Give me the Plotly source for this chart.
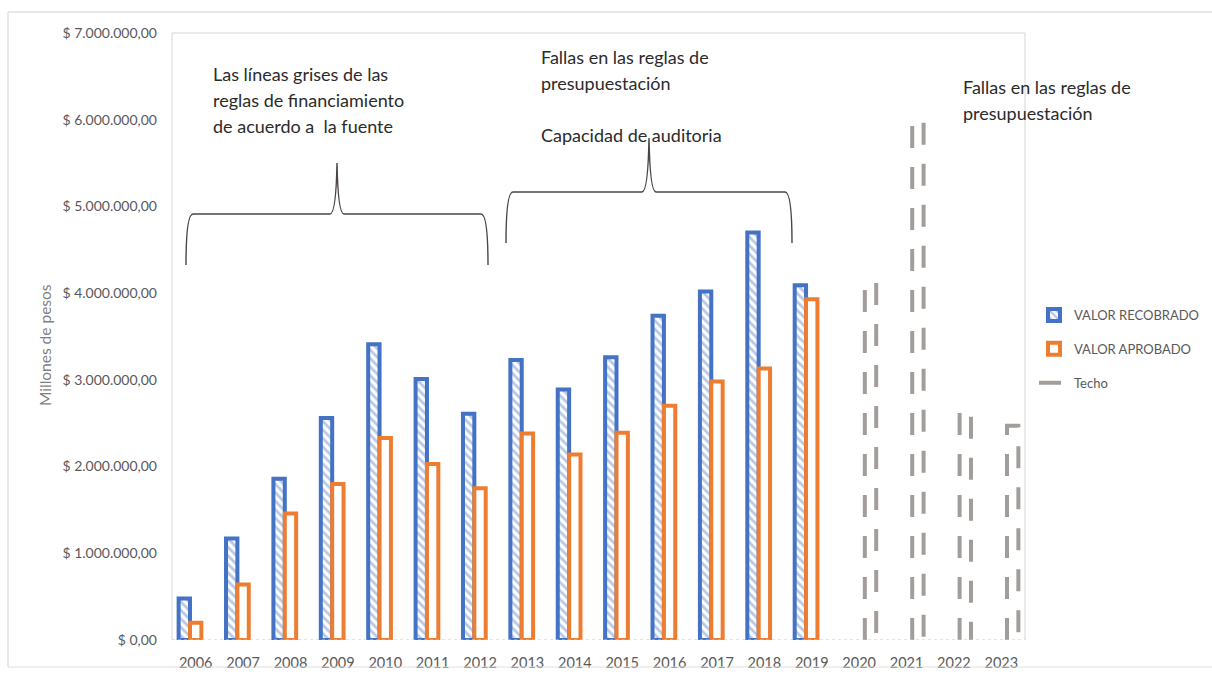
import plotly.graph_objects as go

# ---------------- data ----------------
years = list(range(2006, 2024))
years_hist = years[:14]
years_techo = years[14:]
valor_recobrado = [480000, 1170000, 1860000, 2560000, 3410000, 3010000, 2610000,
                   3230000, 2890000, 3260000, 3740000, 4020000, 4700000, 4090000]
valor_aprobado = [200000, 640000, 1460000, 1800000, 2330000, 2030000, 1750000,
                  2380000, 2140000, 2390000, 2700000, 2980000, 3130000, 3930000]
techo = [4120000, 5990000, 2640000, 2470000]
y_tick_values = [0, 1000000, 2000000, 3000000, 4000000, 5000000, 6000000, 7000000]
x_tick_labels = [str(y) for y in years]


def fmt_peso(v):
    return "$ " + f"{int(v):,}".replace(",", ".") + ",00"


y_tick_labels = [fmt_peso(v) for v in y_tick_values]

# ---------------- geometry helpers (layout only) ----------------
W, H = 1212, 679
L, R, T, B = 172, 187, 33, 39
PW, PH = W - L - R, H - T - B


def px(x):
    return (x - L) / PW


def py(y):
    return (H - B - y) / PH


slot = 0.24  # width of each bar slot in category units
BLUE = "#4472c4"
ORANGE = "#ed7d31"
GRAY = "#a39d9a"
FONT = "Lato"

fig = go.Figure()

fig.add_trace(go.Bar(
    x=years_hist, y=valor_recobrado, name="VALOR RECOBRADO",
    width=slot, offset=-1.5 * slot,
    marker=dict(color="white",
                line=dict(color=BLUE, width=4),
                pattern=dict(shape="\\", fgcolor="#6b8fd3", bgcolor="white",
                             size=6, solidity=0.45, fillmode="overlay")),
    legendgroup="a",
))
fig.add_trace(go.Bar(
    x=years_hist, y=valor_aprobado, name="VALOR APROBADO",
    width=slot, offset=-0.5 * slot,
    marker=dict(color="white", line=dict(color=ORANGE, width=4)),
    legendgroup="b",
))

# Techo: dashed outlined bars built from the data
tx, ty = [], []
for yr, v in zip(years_techo, techo):
    xl, xr = yr + 0.5 * slot, yr + 1.5 * slot
    tx += [xl, xl, xr, xr, None]
    ty += [0, v, v, 0, None]
fig.add_trace(go.Scatter(
    x=tx, y=ty, mode="lines", name="Techo",
    line=dict(color=GRAY, width=4, dash="22px,19px"),
    legendgroup="c", connectgaps=False,
))

shapes = []
frame_col = "#dcd4d0"
shapes.append(dict(type="line", xref="paper", yref="paper", x0=0, x1=0, y0=0, y1=1,
                   line=dict(color=frame_col, width=1)))
shapes.append(dict(type="line", xref="paper", yref="paper", x0=0, x1=1, y0=1, y1=1,
                   line=dict(color=frame_col, width=1)))
shapes.append(dict(type="line", xref="paper", yref="paper", x0=1, x1=1, y0=0, y1=1,
                   line=dict(color=frame_col, width=1)))
shapes.append(dict(type="line", xref="paper", yref="y", x0=0, x1=1, y0=0, y1=0,
                   line=dict(color="#c9c9c9", width=1, dash="dot")))
outer = "#e3e0de"
shapes.append(dict(type="line", xref="paper", yref="paper", x0=px(8), x1=px(1212), y0=py(12), y1=py(12),
                   line=dict(color=outer, width=1.5)))
shapes.append(dict(type="line", xref="paper", yref="paper", x0=px(8), x1=px(8), y0=py(12), y1=py(667),
                   line=dict(color=outer, width=1.5)))
shapes.append(dict(type="line", xref="paper", yref="paper", x0=px(8), x1=px(1212), y0=py(667), y1=py(667),
                   line=dict(color=outer, width=1)))


def brace(x0, x1, xm, yb, yh, yp):
    p = (f"M {px(x0)},{py(yb)} Q {px(x0)},{py(yh)} {px(x0 + 7)},{py(yh)} "
         f"L {px(xm - 7)},{py(yh)} Q {px(xm - 1)},{py(yh)} {px(xm)},{py(yp)} "
         f"Q {px(xm + 1)},{py(yh)} {px(xm + 7)},{py(yh)} "
         f"L {px(x1 - 7)},{py(yh)} Q {px(x1)},{py(yh)} {px(x1)},{py(yb)}")
    return dict(type="path", xref="paper", yref="paper", path=p,
                line=dict(color="#4a4544", width=1.4))


shapes.append(brace(186, 488, 337, 265, 214, 163))
shapes.append(brace(506, 792, 649, 243, 192, 138))

annotations = []
txt_col = "#2b2b2b"


def text_line(t, x, y, size=18, col=txt_col):
    annotations.append(dict(text=t, xref="paper", yref="paper", x=px(x), y=py(y),
                            xanchor="left", yanchor="middle", showarrow=False,
                            font=dict(family=FONT, size=size, color=col)))


text_line("Las líneas grises de las", 211, 74)
text_line("reglas de financiamiento", 211, 100)
text_line("de acuerdo a  la fuente", 211, 126)
text_line("Fallas en las reglas de", 539, 57)
text_line("presupuestación", 539, 83)
text_line("Capacidad de auditoria", 539, 135)
text_line("Fallas en las reglas de", 961, 87)
text_line("presupuestación", 961, 113)

annotations.append(dict(text="Millones de pesos", xref="paper", yref="paper",
                        x=px(45), y=py(345), textangle=-90, showarrow=False,
                        xanchor="center", yanchor="middle",
                        font=dict(family=FONT, size=15.5, color="#7f7f7f")))

fig.update_layout(
    width=W, height=H, autosize=False,
    margin=dict(l=L, r=R, t=T, b=B, pad=0, autoexpand=False),
    paper_bgcolor="white", plot_bgcolor="white",
    barmode="overlay",
    font=dict(family=FONT, size=13, color="#595959"),
    xaxis=dict(type="linear", range=[2005.5, 2023.5], tickvals=years, ticktext=x_tick_labels,
               showgrid=False, zeroline=False, showline=False, ticks="",
               ticklabelstandoff=12,
               tickfont=dict(family=FONT, size=14.5, color="#595959")),
    yaxis=dict(range=[0, 7000000], tickvals=y_tick_values, ticktext=y_tick_labels,
               showgrid=False, zeroline=False, showline=False, ticks="",
               ticklabelstandoff=14,
               tickfont=dict(family=FONT, size=14, color="#595959")),
    legend=dict(x=px(1034), y=py(300), xanchor="left", yanchor="top",
                font=dict(family=FONT, size=13, color="#595959"),
                tracegroupgap=14, traceorder="grouped", bgcolor="rgba(0,0,0,0)",
                itemwidth=30),
    shapes=shapes,
    annotations=annotations,
    showlegend=True,
)

fig.write_html("out.html", config={"displayModeBar": False},
               post_script="document.body.style.margin='0';document.body.style.overflow='hidden';")
